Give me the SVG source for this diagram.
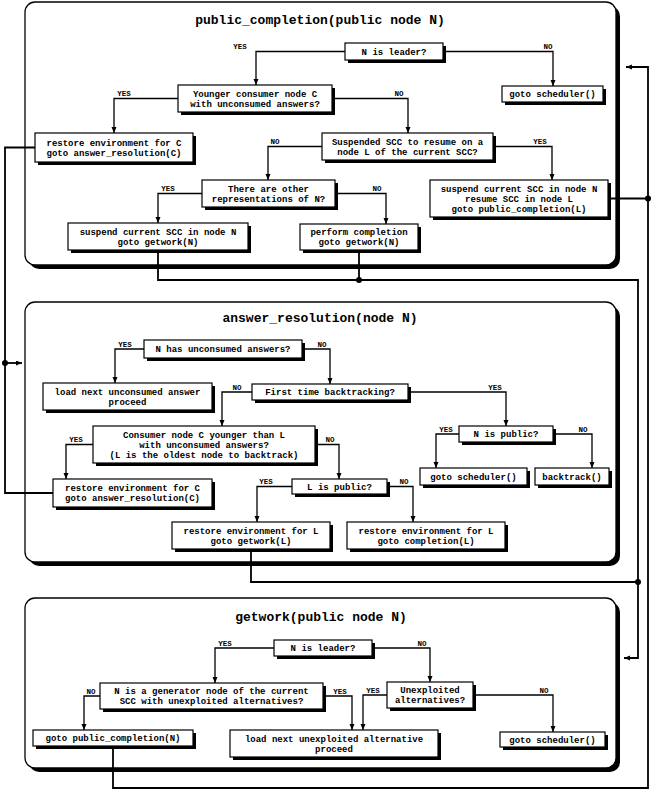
<svg xmlns="http://www.w3.org/2000/svg" width="654" height="792" viewBox="0 0 654 792">
<style>
.pan{fill:#fff;stroke:#000;stroke-width:1.3}
.pans{fill:#000}
.box{fill:#fff;stroke:#000;stroke-width:1.2}
.sh{fill:#000}
.t{font-family:"Liberation Mono","Courier New",monospace;font-weight:bold;font-size:9px;text-anchor:middle;fill:#000}
.ttl{font-family:"Liberation Mono","Courier New",monospace;font-weight:bold;font-size:13px;text-anchor:middle;fill:#000}
.lb{font-family:"Liberation Mono","Courier New",monospace;font-weight:bold;font-size:7.5px;text-anchor:middle;fill:#000}
.c{fill:none;stroke:#000;stroke-width:1.3}
.o{fill:none;stroke:#000;stroke-width:1.8}
</style>
<defs>
<marker id="ar" markerUnits="userSpaceOnUse" markerWidth="7" markerHeight="6" refX="6" refY="2.5" orient="auto">
<path d="M0,0 L6,2.5 L0,5 z" fill="#000"/>
</marker>
</defs>

<g id="panel-public_completion">
<rect class="pans" x="29" y="6" width="591" height="263" rx="10"/>
<rect class="pan" x="25" y="2" width="591" height="263" rx="10"/>
<text class="ttl" x="320" y="24">public_completion(public node N)</text>
</g>
<g id="panel-answer_resolution">
<rect class="pans" x="29" y="306" width="591" height="260" rx="10"/>
<rect class="pan" x="25" y="302" width="591" height="260" rx="10"/>
<text class="ttl" x="320" y="322">answer_resolution(node N)</text>
</g>
<g id="panel-getwork">
<rect class="pans" x="29" y="602" width="591" height="170" rx="10"/>
<rect class="pan" x="25" y="598" width="591" height="170" rx="10"/>
<text class="ttl" x="321" y="621">getwork(public node N)</text>
</g>

<g id="connectors">
<!-- panel 1 -->
<path class="c" d="M345,51.5 H256 V85" marker-end="url(#ar)"/>
<path class="c" d="M443,51.5 H553 V86" marker-end="url(#ar)"/>
<path class="c" d="M178,98.5 H114 V133" marker-end="url(#ar)"/>
<path class="c" d="M332,98.5 H408 V133" marker-end="url(#ar)"/>
<path class="c" d="M322,146.5 H268 V180" marker-end="url(#ar)"/>
<path class="c" d="M493,146.5 H552 V180" marker-end="url(#ar)"/>
<path class="c" d="M202,193.5 H158 V223" marker-end="url(#ar)"/>
<path class="c" d="M335,193.5 H386 V224" marker-end="url(#ar)"/>
<text class="lb" x="240" y="49">YES</text>
<text class="lb" x="548" y="49">NO</text>
<text class="lb" x="124" y="96">YES</text>
<text class="lb" x="399" y="96">NO</text>
<text class="lb" x="275" y="144">NO</text>
<text class="lb" x="540" y="144">YES</text>
<text class="lb" x="168" y="191">YES</text>
<text class="lb" x="377" y="191">NO</text>
<!-- panel 2 -->
<path class="c" d="M144,349 H115 V383" marker-end="url(#ar)"/>
<path class="c" d="M302,349 H330 V384" marker-end="url(#ar)"/>
<path class="c" d="M252,392 H222 V426" marker-end="url(#ar)"/>
<path class="c" d="M408,392 H506 V426" marker-end="url(#ar)"/>
<path class="c" d="M459,434 H436 V468" marker-end="url(#ar)"/>
<path class="c" d="M553,434 H592 V468" marker-end="url(#ar)"/>
<path class="c" d="M93,444.5 H66 V479" marker-end="url(#ar)"/>
<path class="c" d="M315,444.5 H339 V479" marker-end="url(#ar)"/>
<path class="c" d="M292,486.5 H257 V522" marker-end="url(#ar)"/>
<path class="c" d="M387,486.5 H413 V522" marker-end="url(#ar)"/>
<text class="lb" x="125" y="346.5">YES</text>
<text class="lb" x="322" y="346.5">NO</text>
<text class="lb" x="237" y="389.5">NO</text>
<text class="lb" x="495" y="389.5">YES</text>
<text class="lb" x="446" y="431.5">YES</text>
<text class="lb" x="583" y="431.5">NO</text>
<text class="lb" x="76" y="442">YES</text>
<text class="lb" x="330" y="442">NO</text>
<text class="lb" x="266" y="484">YES</text>
<text class="lb" x="404" y="484">NO</text>
<!-- panel 3 -->
<path class="c" d="M274,648 H215 V683" marker-end="url(#ar)"/>
<path class="c" d="M372,648 H430 V682" marker-end="url(#ar)"/>
<path class="c" d="M100,696 H84 V730" marker-end="url(#ar)"/>
<path class="c" d="M323,696 H352 V730" marker-end="url(#ar)"/>
<path class="c" d="M387,695 H363 V730" marker-end="url(#ar)"/>
<path class="c" d="M473,695 H553 V732" marker-end="url(#ar)"/>
<text class="lb" x="225" y="645.5">YES</text>
<text class="lb" x="422" y="645.5">NO</text>
<text class="lb" x="91" y="693.5">NO</text>
<text class="lb" x="340" y="693.5">YES</text>
<text class="lb" x="373" y="692.5">YES</text>
<text class="lb" x="544" y="692.5">NO</text>
<!-- cross-panel -->
<path class="o" d="M35,147.5 H5 V493 H53"/>
<path class="o" d="M5,363 H22" marker-end="url(#ar)"/>
<circle cx="5" cy="363" r="3"/>
<path class="o" d="M158,250 V280 H638 V658 H624" marker-end="url(#ar)"/>
<path class="o" d="M359,250 V280"/>
<circle cx="359" cy="280" r="3"/>
<path class="o" d="M251,549 V582 H638"/>
<circle cx="638" cy="582" r="3"/>
<path class="o" d="M113,746 V788 H648 V67 H626" marker-end="url(#ar)"/>
<path class="o" d="M608,198.5 H648"/>
<circle cx="648" cy="198.5" r="3"/>
</g>

<g id="n-leader1"><rect class="sh" x="348" y="46" width="98" height="17"/><rect class="box" x="345" y="43" width="98" height="17"/><text class="t" x="394" y="55">N is leader?</text></g>
<g id="n-sched1"><rect class="sh" x="505" y="89" width="101" height="16"/><rect class="box" x="502" y="86" width="101" height="16"/><text class="t" x="552.5" y="97">goto scheduler()</text></g>
<g id="n-younger"><rect class="sh" x="181" y="88" width="154" height="27"/><rect class="box" x="178" y="85" width="154" height="27"/><text class="t" x="255" y="97">Younger consumer node C</text><text class="t" x="255" y="107">with unconsumed answers?</text></g>
<g id="n-restoreC1"><rect class="sh" x="38" y="136" width="158" height="29"/><rect class="box" x="35" y="133" width="158" height="29"/><text class="t" x="114" y="145.5">restore environment for C</text><text class="t" x="114" y="155.5">goto answer_resolution(C)</text></g>
<g id="n-suspended"><rect class="sh" x="325" y="136" width="171" height="27"/><rect class="box" x="322" y="133" width="171" height="27"/><text class="t" x="407.5" y="144.5">Suspended SCC to resume on a</text><text class="t" x="407.5" y="154.5">node L of the current SCC?</text></g>
<g id="n-other"><rect class="sh" x="205" y="183" width="133" height="27"/><rect class="box" x="202" y="180" width="133" height="27"/><text class="t" x="268.5" y="191.5">There are other</text><text class="t" x="268.5" y="201.5">representations of N?</text></g>
<g id="n-suspres"><rect class="sh" x="433" y="183" width="178" height="37"/><rect class="box" x="430" y="180" width="178" height="37"/><text class="t" x="519" y="191.5">suspend current SCC in node N</text><text class="t" x="519" y="201.5">resume SCC in node L</text><text class="t" x="519" y="211.5">goto public_completion(L)</text></g>
<g id="n-suspN"><rect class="sh" x="71" y="226" width="180" height="27"/><rect class="box" x="68" y="223" width="180" height="27"/><text class="t" x="158" y="234.5">suspend current SCC in node N</text><text class="t" x="158" y="244.5">goto getwork(N)</text></g>
<g id="n-perform"><rect class="sh" x="303" y="227" width="118" height="26"/><rect class="box" x="300" y="224" width="118" height="26"/><text class="t" x="359" y="235">perform completion</text><text class="t" x="359" y="245">goto getwork(N)</text></g>

<g id="n-hasAns"><rect class="sh" x="147" y="343" width="158" height="18"/><rect class="box" x="144" y="340" width="158" height="18"/><text class="t" x="223" y="352">N has unconsumed answers?</text></g>
<g id="n-loadAns"><rect class="sh" x="46" y="386" width="169" height="27"/><rect class="box" x="43" y="383" width="169" height="27"/><text class="t" x="127.5" y="394.5">load next unconsumed answer</text><text class="t" x="127.5" y="404.5">proceed</text></g>
<g id="n-first"><rect class="sh" x="255" y="387" width="156" height="16"/><rect class="box" x="252" y="384" width="156" height="16"/><text class="t" x="330" y="395">First time backtracking?</text></g>
<g id="n-consumer"><rect class="sh" x="96" y="429" width="222" height="37"/><rect class="box" x="93" y="426" width="222" height="37"/><text class="t" x="204" y="437.5">Consumer node C younger than L</text><text class="t" x="204" y="447.5">with unconsumed answers?</text><text class="t" x="204" y="457.5">(L is the oldest node to backtrack)</text></g>
<g id="n-pub"><rect class="sh" x="462" y="429" width="94" height="16"/><rect class="box" x="459" y="426" width="94" height="16"/><text class="t" x="506" y="437">N is public?</text></g>
<g id="n-sched2"><rect class="sh" x="423" y="471" width="107" height="17"/><rect class="box" x="420" y="468" width="107" height="17"/><text class="t" x="473.5" y="479.5">goto scheduler()</text></g>
<g id="n-backtrack"><rect class="sh" x="538" y="471" width="74" height="17"/><rect class="box" x="535" y="468" width="74" height="17"/><text class="t" x="572" y="479.5">backtrack()</text></g>
<g id="n-restoreC2"><rect class="sh" x="56" y="482" width="159" height="28"/><rect class="box" x="53" y="479" width="159" height="28"/><text class="t" x="132.5" y="491">restore environment for C</text><text class="t" x="132.5" y="501">goto answer_resolution(C)</text></g>
<g id="n-lpub"><rect class="sh" x="295" y="482" width="95" height="15"/><rect class="box" x="292" y="479" width="95" height="15"/><text class="t" x="339.5" y="489.5">L is public?</text></g>
<g id="n-restoreLg"><rect class="sh" x="175" y="525" width="158" height="27"/><rect class="box" x="172" y="522" width="158" height="27"/><text class="t" x="251" y="533.5">restore environment for L</text><text class="t" x="251" y="543.5">goto getwork(L)</text></g>
<g id="n-restoreLc"><rect class="sh" x="350" y="525" width="158" height="27"/><rect class="box" x="347" y="522" width="158" height="27"/><text class="t" x="426" y="533.5">restore environment for L</text><text class="t" x="426" y="543.5">goto completion(L)</text></g>

<g id="n-leader3"><rect class="sh" x="277" y="643" width="98" height="16"/><rect class="box" x="274" y="640" width="98" height="16"/><text class="t" x="323" y="651">N is leader?</text></g>
<g id="n-generator"><rect class="sh" x="103" y="686" width="223" height="26"/><rect class="box" x="100" y="683" width="223" height="26"/><text class="t" x="211.5" y="694">N is a generator node of the current</text><text class="t" x="211.5" y="704">SCC with unexploited alternatives?</text></g>
<g id="n-unexp"><rect class="sh" x="390" y="685" width="86" height="26"/><rect class="box" x="387" y="682" width="86" height="26"/><text class="t" x="430" y="693">Unexploited</text><text class="t" x="430" y="703">alternatives?</text></g>
<g id="n-gotoPC"><rect class="sh" x="36" y="733" width="160" height="16"/><rect class="box" x="33" y="730" width="160" height="16"/><text class="t" x="113" y="741">goto public_completion(N)</text></g>
<g id="n-loadAlt"><rect class="sh" x="233" y="733" width="208" height="27"/><rect class="box" x="230" y="730" width="208" height="27"/><text class="t" x="334" y="741.5">load next unexploited alternative</text><text class="t" x="334" y="751.5">proceed</text></g>
<g id="n-sched3"><rect class="sh" x="503" y="735" width="105" height="15"/><rect class="box" x="500" y="732" width="105" height="15"/><text class="t" x="552.5" y="742.5">goto scheduler()</text></g>
</svg>
